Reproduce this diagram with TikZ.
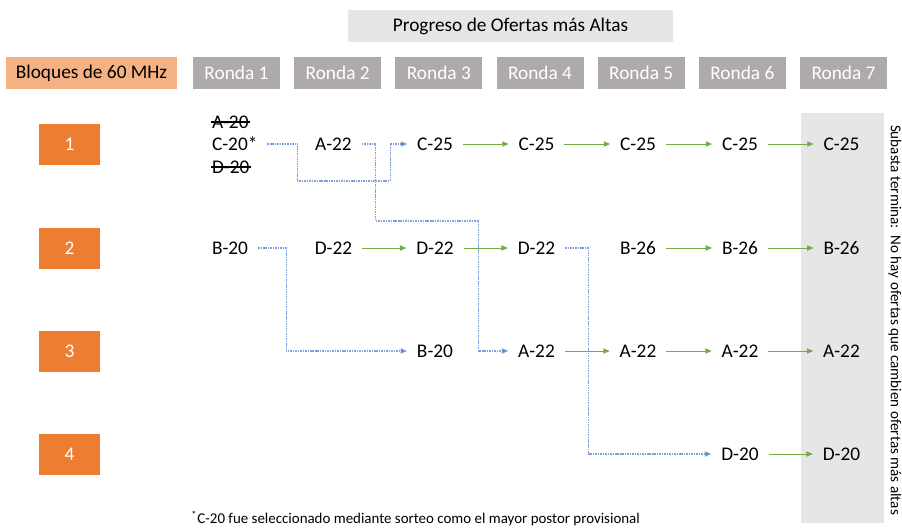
\documentclass[tikz,border=0pt]{standalone}
\usepackage{fontspec}
\setmainfont{Carlito}
\usepackage{xcolor}
\usepackage{tikz}
\usetikzlibrary{arrows.meta}
\usetikzlibrary{calc}

\definecolor{naranja}{HTML}{ED7D31}
\definecolor{naranjaclaro}{HTML}{F4B183}
\definecolor{grisronda}{HTML}{AEAAAA}
\definecolor{gristitulo}{HTML}{E7E6E6}
\definecolor{verde}{HTML}{70AD47}
\definecolor{azul}{HTML}{4472C4}
\definecolor{azulclaro}{HTML}{7F9FDA}

\begin{document}
\begin{tikzpicture}[x=0.02cm,y=-0.02cm]
\tikzset{>={Triangle[length=3.6pt,width=3pt]}}
\tikzstyle{ronda} =[fill=grisronda, text=white, minimum width=1.74cm, minimum height=0.64cm, inner sep=0pt, font=\fontsize{11}{13}\selectfont]
\tikzstyle{bloque} =[fill=naranja, text=white, minimum width=1.22cm, minimum height=0.82cm, inner sep=0pt, font=\fontsize{11}{13}\selectfont]
\tikzstyle{oferta} =[inner xsep=5.5pt, inner ysep=1pt, font=\fontsize{11}{13}\selectfont]
\tikzstyle{tachado} =[line width=0.8pt]
\tikzstyle{avanza} =[->, draw=verde, line width=0.45pt]
\tikzstyle{mueve} =[-{Triangle[length=3.6pt,width=3pt,fill=azul]}, draw=azulclaro, line width=0.6pt, dash pattern=on 0.9pt off 0.5pt]
\useasboundingbox (0,0) rectangle (902,528);

% encabezados
\node[fill=gristitulo, minimum width=6.5cm, minimum height=0.64cm, font=\fontsize{11}{13}\selectfont](titulo) at (510.5,26){Progreso de Ofertas más Altas};
\node[fill=naranjaclaro, minimum width=3.42cm, minimum height=0.64cm, inner sep=0pt, font=\fontsize{11}{13}\selectfont](bloques) at (91.5,73){Bloques de 60 MHz};
\foreach \i in {1,...,7}
  \node[ronda](rd\i) at ({236.5+101.17*(\i-1)},73){Ronda \i};
\foreach \i/\y in {1/144,2/248,3/351,4/454}
  \node[bloque](bl\i) at (69.5,\y){\i};

% columna final
\fill[gristitulo] (801,113) rectangle (884,523);
\node[rotate=-90, inner sep=0pt, font=\fontsize{8.6}{10}\selectfont](fin) at (895,320){Subasta termina:\, No hay ofertas que cambien ofertas más altas};

% ofertas
\node[oferta,anchor=west](a20) at (202,122){A-20};
\node[oferta,anchor=west](c20) at (202,144){C-20*};
\node[oferta,anchor=west](d20) at (202,167){D-20};
\draw[tachado] ([xshift=5pt]a20.west) -- ([xshift=-5pt]a20.east);
\draw[tachado] ([xshift=5pt]d20.west) -- ([xshift=-5pt]d20.east);
\node[oferta](r1c2) at (333.5,144){A-22};
\node[oferta](r1c3) at (435,144){C-25};
\node[oferta](r1c4) at (536.5,144){C-25};
\node[oferta](r1c5) at (638,144){C-25};
\node[oferta](r1c6) at (740,144){C-25};
\node[oferta](r1c7) at (841.5,144){C-25};

\node[oferta,anchor=west](r2c1) at (202,248){B-20};
\node[oferta](r2c2) at (333.5,248){D-22};
\node[oferta](r2c3) at (435,248){D-22};
\node[oferta](r2c4) at (536.5,248){D-22};
\node[oferta](r2c5) at (638,248){B-26};
\node[oferta](r2c6) at (740,248){B-26};
\node[oferta](r2c7) at (841.5,248){B-26};

\node[oferta](r3c3) at (435,351){B-20};
\node[oferta](r3c4) at (536.5,351){A-22};
\node[oferta](r3c5) at (638,351){A-22};
\node[oferta](r3c6) at (740,351){A-22};
\node[oferta](r3c7) at (841.5,351){A-22};

\node[oferta](r4c6) at (740,454){D-20};
\node[oferta](r4c7) at (841.5,454){D-20};

% ofertas que se mantienen
\draw[avanza] (r1c3) -- (r1c4);
\draw[avanza] (r1c4) -- (r1c5);
\draw[avanza] (r1c5) -- (r1c6);
\draw[avanza] (r1c6) -- (r1c7);
\draw[avanza] (r2c2) -- (r2c3);
\draw[avanza] (r2c3) -- (r2c4);
\draw[avanza] (r2c5) -- (r2c6);
\draw[avanza] (r2c6) -- (r2c7);
\draw[avanza] (r3c4) -- (r3c5);
\draw[avanza] (r3c5) -- (r3c6);
\draw[avanza] (r3c6) -- (r3c7);
\draw[avanza] (r4c6) -- (r4c7);

% ofertas que cambian de bloque
\draw[mueve] (c20.east) -- ++(30,0) -- ++(0,37) -| ($(r1c3.west)+(-17,0)$) -- (r1c3.west);
\draw[mueve] (r1c2.east) -- ++(14,0) |- ($(r3c4.west)+(-30,-130)$) -- ($(r3c4.west)+(-30,0)$) -- (r3c4.west);
\draw[mueve] (r2c1.east) -- ++(28,0) |- (r3c3.west);
\draw[mueve] (r2c4.east) -- ++(23,0) |- (r4c6.west);

% nota
\node[anchor=west, inner sep=0pt, font=\fontsize{8.5}{10}\selectfont](nota) at (191,518){\textsuperscript{*}C-20 fue seleccionado mediante sorteo como el mayor postor provisional};
\end{tikzpicture}
\end{document}
